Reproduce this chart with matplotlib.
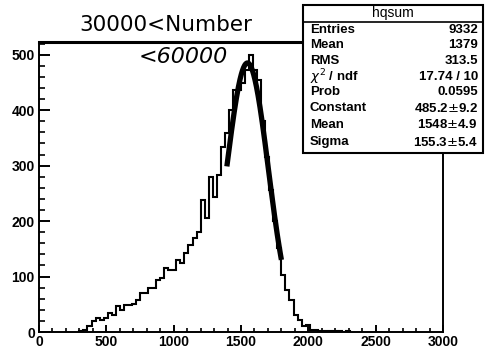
import numpy
import matplotlib
matplotlib.use("Agg")
from matplotlib import pyplot
from matplotlib.patches import Rectangle
from matplotlib.ticker import MultipleLocator

# histogram hqsum, 30-wide bins, first filled bin starts at 300
first_edge = 300
bin_width = 30
counts = [2, 3, 10, 19, 25, 21, 25, 34, 30, 46, 40, 48, 49, 51, 57, 70, 70,
          79, 79, 94, 97, 115, 112, 112, 130, 124, 142, 157, 169, 181, 238,
          205, 280, 244, 283, 334, 359, 400, 437, 437, 449, 473, 500, 473,
          455, 380, 315, 256, 200, 152, 103, 76, 58, 31, 22, 10, 13, 4, 3,
          2, 1, 2, 1, 2, 1, 0, 1]

# gaussian fit shown in the stat box
fit_const = 485.2
fit_mean = 1548
fit_sigma = 155.3
fit_range = (1395, 1800)

stat_labels = ["Entries", "Mean", "RMS", r"$\chi^2$ / ndf", "Prob",
               "Constant", "Mean", "Sigma"]
stat_values = ["9332", "1379", "313.5", "17.74 / 10", "0.0595",
               "485.2$\\pm$9.2", "1548$\\pm$4.9", "155.3$\\pm$5.4"]


def main():
    W, H = 489, 351
    fig = pyplot.figure(figsize=(W / 100, H / 100), dpi=100)
    ax = fig.add_axes([39 / W, 1 - 332 / H, (443 - 39) / W, (332 - 42) / H])

    edges = first_edge + bin_width * numpy.arange(len(counts) + 1)
    ax.stairs(counts, edges, baseline=0, color="black", linewidth=1.5)

    xs = numpy.linspace(fit_range[0], fit_range[1], 200)
    ys = fit_const * numpy.exp(-0.5 * ((xs - fit_mean) / fit_sigma) ** 2)
    ax.plot(xs, ys, color="black", linewidth=3.8, solid_capstyle="butt")

    ax.set_xlim(0, 3000)
    ax.set_ylim(0, 523)
    ax.xaxis.set_major_locator(MultipleLocator(500))
    ax.xaxis.set_minor_locator(MultipleLocator(100))
    ax.yaxis.set_major_locator(MultipleLocator(100))
    ax.yaxis.set_minor_locator(MultipleLocator(20))
    ax.tick_params(axis="y", which="major", direction="in", length=8, width=1.4, pad=3)
    ax.tick_params(axis="y", which="minor", direction="in", length=4.3, width=1.2)
    ax.tick_params(axis="x", which="major", direction="in", length=5, width=1.4, pad=2)
    ax.tick_params(axis="x", which="minor", direction="in", length=3, width=1.2)
    for lab in ax.get_xticklabels() + ax.get_yticklabels():
        lab.set_fontfamily("Liberation Sans")
        lab.set_fontweight("bold")
        lab.set_fontsize(10)
    for s in ax.spines.values():
        s.set_linewidth(1.4)
    ax.spines["top"].set_linewidth(2.2)

    # stat box
    bl, br, bt, bb = 303, 483, 5, 153
    fig.patches.append(Rectangle((bl / W, 1 - bb / H), (br - bl) / W, (bb - bt) / H,
                                 transform=fig.transFigure, facecolor="white",
                                 edgecolor="black", linewidth=1.5, zorder=5))
    fig.add_artist(pyplot.Line2D([bl / W, br / W], [1 - 22 / H, 1 - 22 / H],
                                 transform=fig.transFigure, color="black",
                                 linewidth=1.2, zorder=6))
    fig.text((bl + br) / 2 / W, 1 - 13.5 / H, "hqsum", ha="center", va="center",
             fontsize=10, family="Liberation Sans", zorder=7)
    row_y = [30, 45, 61, 77, 92, 108, 125, 142]
    for lab, val, y in zip(stat_labels, stat_values, row_y):
        fig.text(310 / W, 1 - y / H, lab, ha="left", va="center", fontsize=9.5,
                 family="Liberation Sans", fontweight="bold", zorder=7)
        fig.text(478 / W, 1 - y / H, val, ha="right", va="center", fontsize=9.5,
                 family="Liberation Sans", fontweight="bold", zorder=7)

    # handwritten note
    fig.text(166 / W, 1 - 25 / H, "30000<Number", ha="center", va="center",
             fontsize=15.5, family="DejaVu Sans")
    fig.text(183 / W, 1 - 57 / H, "<60000", ha="center", va="center",
             fontsize=16, family="DejaVu Sans", style="italic")

    fig.savefig("out.png", dpi=100)
    pyplot.close(fig)


if __name__ == "__main__":
    main()
